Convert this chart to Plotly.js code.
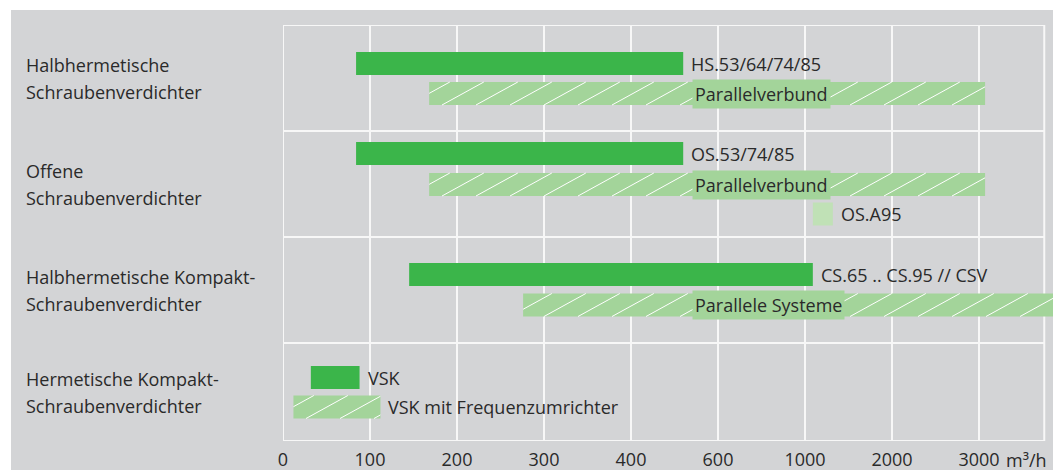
<!DOCTYPE html>
<html>
<head>
<meta charset="utf-8">
<script src="https://cdn.plot.ly/plotly-3.0.1.min.js"></script>
<style>
  html, body { margin: 0; padding: 0; background: #ffffff; }
  #chart { width: 1053px; height: 470px; }
</style>
</head>
<body>
<div id="chart"></div>
<script>
// ---------------- DATA ----------------
// Compressor categories (two text lines each)
const categories = [
  ["Halbhermetische", "Schraubenverdichter"],
  ["Offene", "Schraubenverdichter"],
  ["Halbhermetische Kompakt-", "Schraubenverdichter"],
  ["Hermetische Kompakt-", "Schraubenverdichter"]
];
// Bars: group index, product label, start / end of range in m³/h, type
const barGroup  = [0, 0, 1, 1, 1, 2, 2, 3, 3];
const barLabels = ["HS.53/64/74/85", "Parallelverbund", "OS.53/74/85", "Parallelverbund", "OS.A95",
                   "CS.65 .. CS.95 // CSV", "Parallele Systeme", "VSK", "VSK mit Frequenzumrichter"];
const barStart  = [84, 168, 84, 168, 1090, 145, 276, 32, 12];
const barEnd    = [520, 3070, 520, 3070, 1320, 1090, 4000, 88, 112];
const barType   = ["single", "parallel", "single", "parallel", "option", "single", "parallel", "single", "parallel"];
// Axis tick values (non-linear axis: equally spaced ticks)
const tickValues = [0, 100, 200, 300, 400, 600, 1000, 2000, 3000];
const tickLabels = ["0", "100", "200", "300", "400", "600", "1000", "2000", "3000"];
const axisUnit = "m³/h";

// ---------------- LAYOUT CONSTANTS ----------------
const W = 1053, H = 470;
const M = {l: 283, r: 0, t: 25, b: 29};
const PX_PER_STEP = 87;                      // horizontal pixels between ticks
const plotW = W - M.l - M.r, plotH = H - M.t - M.b;
const xMax = plotW / PX_PER_STEP;
const frameRight = 8.75;                     // right border of the grid frame (axis units)
// vertical layout (y axis in pixel-like units, 0 = top of plot)
const sectionBounds = [0, 106, 212, 318, 416];
const rowCenters = [38.5, 68.5, 128.5, 159.5, 189, 249.5, 280, 352.5, 382];
const barThickness = 23;
const insideLabelX = 4.75;                   // axis position of labels written inside hatched bars
const lineGap = 27;

const COL = {
  bg: "#d3d4d6", grid: "#f7f7f7", dark: "#3bb54a", light: "#a3d49a",
  option: "#c0e1b6", text: "#2a2a2a", hatch: "#ffffff"
};
const FONT = "'Open Sans', 'DejaVu Sans', sans-serif";
const FS = 18;

// piecewise map of m³/h values onto the equally spaced tick axis
const breaks = tickValues.concat([4000]);
function toAxis(v) {
  for (let i = 0; i < breaks.length - 1; i++) {
    if (v <= breaks[i + 1] || i === breaks.length - 2) {
      return i + (v - breaks[i]) / (breaks[i + 1] - breaks[i]);
    }
  }
}

const traces = [];
const typesColor = {single: COL.dark, parallel: COL.light, option: COL.option};
["single", "parallel", "option"].forEach(t => {
  const idx = barType.map((b, i) => b === t ? i : -1).filter(i => i >= 0);
  traces.push({
    type: "bar", orientation: "h",
    y: idx.map(i => rowCenters[i]),
    base: idx.map(i => toAxis(barStart[i])),
    x: idx.map(i => toAxis(barEnd[i]) - toAxis(barStart[i])),
    width: barThickness,
    marker: {color: typesColor[t], line: {width: 0}},
    hoverinfo: "skip", showlegend: false
  });
});

// diagonal hatching for the "parallel" bars (computed from the bar extents)
const hx = [], hy = [];
const slope = 0.55, spacing = 34;            // pixel slope and spacing of hatch lines
barType.forEach((t, i) => {
  if (t !== "parallel") return;
  const x0 = M.l + toAxis(barStart[i]) * PX_PER_STEP;
  const x1 = M.l + Math.min(toAxis(barEnd[i]), xMax) * PX_PER_STEP;
  const yb = rowCenters[i] + barThickness / 2, h = barThickness;
  const w = h / slope;
  let c = Math.floor((x0 - w) / spacing) * spacing;
  for (; c < x1; c += spacing) {
    const tmin = Math.max(0, (x0 - c) / w), tmax = Math.min(1, (x1 - c) / w);
    if (tmin >= tmax) continue;
    [tmin, tmax].forEach(tt => {
      hx.push((c + tt * w - M.l) / PX_PER_STEP);
      hy.push(yb - tt * h);
    });
    hx.push(null); hy.push(null);
  }
});
traces.push({
  type: "scatter", mode: "lines", x: hx, y: hy,
  line: {color: COL.hatch, width: 1}, hoverinfo: "skip", showlegend: false, connectgaps: false
});

// ---------------- ANNOTATIONS ----------------
const annotations = [];
barLabels.forEach((lab, i) => {
  const inside = barType[i] === "parallel" && toAxis(barEnd[i]) > insideLabelX + 1.5;
  annotations.push({
    x: inside ? insideLabelX : toAxis(barEnd[i]), y: rowCenters[i],
    xref: "x", yref: "y", text: lab, showarrow: false,
    xanchor: "left", yanchor: "middle", xshift: inside ? -4 : 6,
    font: {family: FONT, size: FS, color: COL.text},
    bgcolor: inside ? COL.light : "rgba(0,0,0,0)", borderpad: inside ? 2 : 1
  });
});
categories.forEach((lines, g) => {
  const mid = (sectionBounds[g] + sectionBounds[g + 1]) / 2;
  lines.forEach((ln, k) => {
    annotations.push({
      x: (24 - M.l) / plotW, xref: "paper", y: mid + (k - 0.5) * lineGap, yref: "y",
      text: ln, showarrow: false, xanchor: "left", yanchor: "middle",
      font: {family: FONT, size: FS, color: COL.text}
    });
  });
});
annotations.push({
  x: 8, xref: "x", xshift: 26, y: -(460 - (H - M.b)) / plotH, yref: "paper",
  text: axisUnit, showarrow: false, xanchor: "left", yanchor: "middle", borderpad: 0,
  font: {family: FONT, size: FS, color: COL.text}
});

// ---------------- SHAPES ----------------
const shapes = [{
  type: "rect", xref: "paper", yref: "paper", layer: "below",
  x0: (11 - M.l) / plotW, x1: 1 + 5 / plotW, y0: -(M.b + 5) / plotH, y1: 1 + (M.t - 10) / plotH,
  fillcolor: COL.bg, line: {width: 0}
}];
sectionBounds.forEach(b => shapes.push({
  type: "line", xref: "x", yref: "y", layer: "below", x0: 0, x1: frameRight, y0: b, y1: b,
  line: {color: COL.grid, width: 2}
}));
[0, frameRight].forEach(xv => shapes.push({
  type: "line", xref: "x", yref: "y", layer: "below", x0: xv, x1: xv, y0: 0, y1: sectionBounds[sectionBounds.length - 1],
  line: {color: COL.grid, width: 2}
}));

const layout = {
  width: W, height: H, margin: M,
  paper_bgcolor: "#ffffff", plot_bgcolor: "rgba(0,0,0,0)",
  barmode: "overlay", showlegend: false,
  xaxis: {
    range: [0, xMax], tickvals: tickValues.map(toAxis), ticktext: tickLabels,
    showgrid: true, gridcolor: COL.grid, gridwidth: 2, zeroline: false, showline: false,
    ticks: "", ticklabelstandoff: 6, tickfont: {family: FONT, size: FS, color: COL.text}, fixedrange: true
  },
  yaxis: {
    range: [sectionBounds[sectionBounds.length - 1], 0], showgrid: false, zeroline: false,
    showticklabels: false, ticks: "", fixedrange: true
  },
  shapes: shapes, annotations: annotations
};

Plotly.newPlot("chart", traces, layout, {displayModeBar: false, staticPlot: true});
</script>
</body>
</html>
